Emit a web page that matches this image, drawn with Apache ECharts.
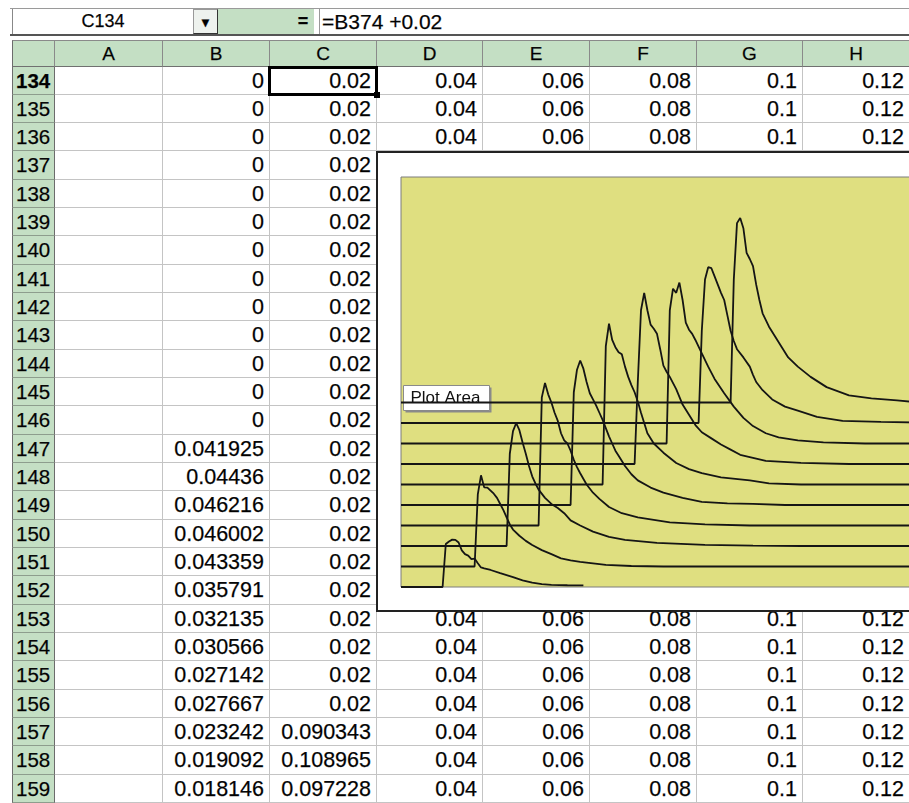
<!DOCTYPE html>
<html>
<head>
<meta charset="utf-8">
<script src="https://cdn.jsdelivr.net/npm/echarts@6/dist/echarts.min.js"></script>
<style>
  html, body { margin: 0; padding: 0; background: #fff; }
  body { width: 909px; height: 803px; overflow: hidden; position: relative;
         font-family: "Liberation Sans", Arial, sans-serif; color: #000; }
  .abs { position: absolute; box-sizing: border-box; white-space: nowrap; -webkit-text-stroke: 0.25px #222; }
  .cell { border-right: 1px solid #c4c4c4; border-bottom: 1px solid #c4c4c4;
          font-size: 21.5px; text-align: right; padding-right: 5px; }
  .rowhead { background: #c4dfc4; border-bottom: 1px solid #8d9d8d; border-right: 1px solid #6c6c6c;
             border-left: 1px solid #6c6c6c; font-size: 20.5px; padding-left: 3px; }
  .colhead { background: #c4dfc4; border-right: 1px solid #8a8a8a; border-bottom: 1px solid #707070;
             border-top: 1px solid #8a8a8a; font-size: 19px; text-align: center; }
</style>
</head>
<body>
<div id="sheet"></div>
<div id="chart_box" class="abs" style="left:376px; top:151px; width:620px; height:461px; border:2px solid #222; background:#fff;">
  <div id="chart_container" style="width:616px; height:457px;"></div>
</div>
<script>
// spreadsheet contents (rows 134..159)
const row_numbers = [134,135,136,137,138,139,140,141,142,143,144,145,146,147,148,149,150,151,152,153,154,155,156,157,158,159];
const col_letters = ["A","B","C","D","E","F","G","H"];
const col_b = [0,0,0,0,0,0,0,0,0,0,0,0,0,0.041925,0.04436,0.046216,0.046002,0.043359,0.035791,0.032135,0.030566,0.027142,0.027667,0.023242,0.019092,0.018146];
const col_c = [0.02,0.02,0.02,0.02,0.02,0.02,0.02,0.02,0.02,0.02,0.02,0.02,0.02,0.02,0.02,0.02,0.02,0.02,0.02,0.02,0.02,0.02,0.02,0.090343,0.108965,0.097228];
// columns D..H hold the same value on every visible row
const level_cols = [0.04, 0.06, 0.08, 0.1, 0.12];
const name_box = "C134";
const formula = "=B374 +0.02";

// chart series: [sample index, value], one per column (baseline steps of 0.02)
const s0 = [[0,0],[13,0],[14,0.0419],[15,0.0444],[16,0.0462],[17,0.046],[18,0.0434],[19,0.0358],[20,0.0321],[21,0.0306],[22,0.0271],[23,0.0277],[24,0.0232],[25,0.0191],[26,0.0181],[28,0.0166],[31,0.0135],[35,0.0097],[38,0.0065],[41,0.0042],[44,0.0028],[47,0.002],[52,0.0017],[57,0.0015]];
const s1 = [[0,0.02],[23,0.02],[24,0.0903],[25,0.109],[26,0.0972],[27,0.097],[28,0.094],[29,0.091],[30,0.087],[31,0.081],[32,0.075],[33,0.068],[34,0.061],[35,0.056],[37,0.05],[39,0.045],[41,0.041],[44,0.036],[47,0.032],[50,0.028],[53,0.026],[56,0.0245],[60,0.023],[64,0.0215],[72,0.0205],[82,0.02],[170,0.02]];
const s2 = [[0,0.04],[33,0.04],[34,0.13],[35,0.152],[36,0.16],[37,0.153],[38,0.141],[39,0.13],[40,0.118],[41,0.108],[42,0.101],[43,0.095],[45,0.087],[47,0.081],[49,0.077],[51,0.072],[53,0.065],[56,0.06],[60,0.054],[65,0.049],[70,0.046],[80,0.043],[95,0.041],[110,0.0403],[125,0.04],[170,0.04]];
const s3 = [[0,0.06],[43,0.06],[44,0.185],[45,0.199],[46,0.188],[47,0.18],[48,0.17],[49,0.162],[50,0.15],[51,0.143],[52,0.14],[53,0.133],[54,0.124],[55,0.117],[56,0.111],[58,0.1],[60,0.092],[62,0.086],[65,0.078],[69,0.072],[74,0.068],[84,0.063],[95,0.061],[109,0.06],[170,0.06]];
const s4 = [[0,0.08],[53,0.08],[54,0.19],[55,0.212],[56,0.221],[57,0.213],[58,0.2],[59,0.189],[60,0.183],[61,0.177],[62,0.17],[63,0.163],[64,0.155],[65,0.147],[66,0.14],[67,0.133],[68,0.128],[70,0.118],[72,0.11],[74,0.104],[78,0.097],[82,0.092],[88,0.087],[94,0.083],[102,0.0815],[110,0.081],[120,0.08],[170,0.08]];
const s5 = [[0,0.1],[63,0.1],[64,0.235],[65,0.257],[66,0.241],[67,0.234],[68,0.229],[69,0.227],[70,0.215],[71,0.205],[72,0.197],[73,0.19],[74,0.181],[75,0.17],[76,0.16],[77,0.15],[79,0.14],[82,0.131],[86,0.121],[90,0.115],[94,0.111],[100,0.107],[109,0.104],[115,0.101],[125,0.1],[170,0.1]];
const s6 = [[0,0.12],[73,0.12],[74,0.2],[75,0.27],[76,0.287],[77,0.27],[78,0.256],[79,0.252],[80,0.247],[81,0.232],[82,0.216],[83,0.21],[84,0.205],[86,0.193],[88,0.178],[90,0.168],[92,0.158],[94,0.151],[97,0.145],[100,0.139],[103,0.134],[106,0.129],[110,0.126],[114,0.123],[125,0.121],[140,0.12],[170,0.12]];
const s7 = [[0,0.14],[83,0.14],[84,0.27],[85,0.291],[86,0.287],[87,0.297],[88,0.28],[89,0.258],[90,0.251],[91,0.247],[92,0.241],[94,0.228],[96,0.215],[98,0.203],[101,0.189],[104,0.176],[107,0.165],[110,0.157],[114,0.15],[118,0.146],[124,0.143],[132,0.141],[145,0.14],[170,0.14]];
const s8 = [[0,0.16],[93,0.16],[94,0.25],[95,0.3],[96,0.312],[97,0.311],[98,0.303],[99,0.295],[100,0.287],[101,0.28],[102,0.265],[103,0.25],[104,0.24],[105,0.232],[107,0.224],[109,0.215],[110,0.207],[111,0.2],[113,0.192],[116,0.183],[120,0.176],[124,0.172],[130,0.166],[138,0.162],[150,0.161],[170,0.16]];
const s9 = [[0,0.18],[103,0.18],[104,0.3],[105,0.355],[106,0.36],[107,0.35],[108,0.326],[109,0.32],[110,0.313],[111,0.295],[112,0.28],[113,0.267],[115,0.254],[117,0.244],[119,0.234],[121,0.224],[124,0.215],[128,0.205],[133,0.195],[140,0.187],[147,0.184],[155,0.182],[162,0.18],[170,0.18]];
const all_series = [s0, s1, s2, s3, s4, s5, s6, s7, s8, s9];

// sheet geometry
const col_edges = [12, 55, 163, 270, 377, 483, 590, 697, 803, 910];
const head_top = 40, head_h = 26.5, row_h = 28.333;

function add_div(cls, x, y, w, h, text, extra){
    let d = document.createElement("div");
    d.className = "abs " + cls;
    d.style.left = x + "px"; d.style.top = y + "px";
    d.style.width = w + "px"; d.style.height = h + "px";
    d.style.lineHeight = h + "px";
    if (extra) d.style.cssText += extra;
    d.textContent = text;
    document.getElementById("sheet").appendChild(d);
    return d;
}

function build_sheet(){
    // formula bar
    add_div("", 10, 8, 899, 28, "", "border-top:1px solid #9a9a9a; border-bottom:2px solid #555;");
    add_div("", 12, 9, 181, 25, name_box, "background:#fff; text-align:center; font-size:18px; border-left:1px solid #888;");
    add_div("", 193, 9, 25, 25, "\u25BC", "background:#eef2ee; text-align:center; font-size:13px; border:1px solid #999; border-bottom-color:#333; border-right-color:#333;");
    add_div("", 218, 9, 96, 25, "", "background:#c4dfc4;");
    add_div("", 294, 11, 18, 21, "=", "text-align:center; font-size:18px; font-weight:bold;");
    add_div("", 319, 9, 590, 25, formula, "background:#fff; font-size:21px; padding-left:2px; border-left:1px solid #999;");

    // column headers
    add_div("colhead", col_edges[0], head_top, col_edges[1] - col_edges[0], head_h, "", "border-left:1px solid #6c6c6c;");
    col_letters.forEach((l, i) => {
        add_div("colhead", col_edges[i + 1], head_top, col_edges[i + 2] - col_edges[i + 1], head_h, l);
    });

    // rows
    row_numbers.forEach((r, i) => {
        let y = head_top + head_h + i * row_h;
        let rh = add_div("rowhead", col_edges[0], y, col_edges[1] - col_edges[0], row_h, r.toString());
        if (i === 0) rh.style.fontWeight = "bold";
        let vals = ["", col_b[i], col_c[i]].concat(level_cols);
        vals.forEach((v, j) => {
            add_div("cell", col_edges[j + 1], y, col_edges[j + 2] - col_edges[j + 1], row_h, v === "" ? "" : String(v));
        });
    });

    // active cell C134 with fill handle
    let sy = head_top + head_h;
    add_div("", col_edges[3] - 2, sy - 1, col_edges[4] - col_edges[3] + 3, row_h + 2, "", "border:3px solid #000;");
    add_div("", col_edges[4] - 3, sy + row_h - 3, 6, 6, "", "background:#000;");
}

document.addEventListener("DOMContentLoaded", function () {
    build_sheet();

    let chart = echarts.init(document.getElementById("chart_container"));

    let series_list = all_series.map((d, i) => ({
        name: "s" + i,
        type: "line",
        data: d,
        showSymbol: false,
        symbol: "none",
        lineStyle: { color: "#151515", width: 1.8 },
        z: 5
    }));

    let option = {
        animation: false,
        backgroundColor: "#ffffff",
        grid: {
            left: 23, top: 24, width: 544, height: 410,
            show: true, backgroundColor: "#dfdf80",
            borderColor: "#7c7c7c", borderWidth: 1
        },
        xAxis: {
            type: "value", min: 0, max: 170,
            axisLine: { show: false }, axisTick: { show: false },
            axisLabel: { show: false }, splitLine: { show: false }
        },
        yAxis: {
            type: "value", min: 0, max: 0.4,
            axisLine: { show: false }, axisTick: { show: false },
            axisLabel: { show: false }, splitLine: { show: false }
        },
        series: series_list,
        graphic: [
            {
                type: "group", left: 25, top: 232, z: 100,
                children: [
                    { type: "rect", shape: { x: 2, y: 2, width: 86, height: 25 }, style: { fill: "#8a8a8a" } },
                    { type: "rect", shape: { x: 0, y: 0, width: 86, height: 25 }, style: { fill: "#ffffff", stroke: "#8a8a8a", lineWidth: 1 } },
                    { type: "text", x: 7, y: 12.5, style: { text: "Plot Area", fontSize: 17, fontFamily: "Liberation Sans, Arial, sans-serif", fill: "#111", verticalAlign: "middle" } }
                ]
            }
        ]
    };

    if (chart){
        chart.setOption(option);
    }else{
        console.error("Echart instance failed to init");
    }
});
</script>
</body>
</html>
